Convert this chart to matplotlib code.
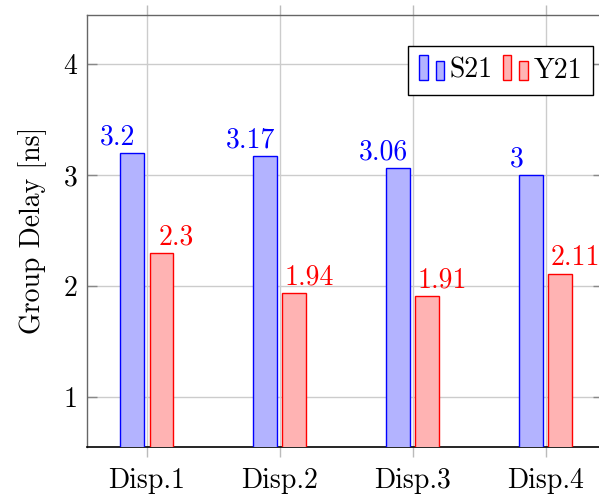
import numpy as np
import matplotlib.pyplot as plt
from matplotlib.legend_handler import HandlerBase
from matplotlib.patches import Rectangle

plt.rcParams["font.family"] = ["cmr10", "DejaVu Serif"]
plt.rcParams["axes.formatter.use_mathtext"] = True

categories = ["Disp.1", "Disp.2", "Disp.3", "Disp.4"]
s21 = [3.2, 3.17, 3.06, 3.0]
y21 = [2.3, 1.94, 1.91, 2.11]
yticks = [1, 2, 3, 4]

blue_fill = (0.7, 0.7, 1.0)
red_fill = (1.0, 0.7, 0.7)


class TwoBarHandler(HandlerBase):
    # pgfplots-like ybar legend image: two small bars
    def create_artists(self, legend, orig_handle, xdescent, ydescent,
                       width, height, fontsize, trans):
        fc = orig_handle.get_facecolor()
        ec = orig_handle.get_edgecolor()
        bw = width * 0.33
        h1 = height * 1.3
        h2 = height * 0.98
        y0 = -ydescent - height * 0.12
        r1 = Rectangle((-xdescent, y0), bw, h1, facecolor=fc,
                       edgecolor=ec, linewidth=1.0, transform=trans)
        r2 = Rectangle((-xdescent + width - bw, y0), bw, h2, facecolor=fc,
                       edgecolor=ec, linewidth=1.0, transform=trans)
        return [r1, r2]


fig = plt.figure(figsize=(5.99, 4.96), dpi=100)
ax = fig.add_axes([87 / 599, 49.5 / 496, 516 / 599, 431.5 / 496])

x = np.arange(len(categories))
bw = 0.18
off = 0.11

b1 = ax.bar(x - off, s21, width=bw, color=blue_fill, edgecolor="blue",
            linewidth=1.0, label="S21", zorder=3)
b2 = ax.bar(x + off, y21, width=bw, color=red_fill, edgecolor="red",
            linewidth=1.0, label="Y21", zorder=3)

# labels near coords
for i, v in enumerate(s21):
    ax.annotate(f"{v:g}", (x[i] - 2 * off, v), xytext=(0, 6),
                textcoords="offset points", ha="center", va="baseline",
                color="blue", fontsize=20, zorder=4)
for i, v in enumerate(y21):
    ax.annotate(f"{v:g}", (x[i] + 2 * off, v), xytext=(0, 6),
                textcoords="offset points", ha="center", va="baseline",
                color="red", fontsize=20, zorder=4)

ax.set_xlim(-0.45, 3.43)
ax.set_ylim(0.554, 4.441)
ax.set_xticks(x)
ax.set_xticklabels(categories, fontsize=20)
ax.set_yticks(yticks)
ax.set_yticklabels([str(t) for t in yticks], fontsize=20)
ax.set_ylabel("Group Delay [ns]", fontsize=20, labelpad=12)

ax.grid(True, color="#cccccc", linewidth=1.0, zorder=0)
ax.set_axisbelow(True)

ax.tick_params(axis="x", direction="out", length=7, width=1.0,
               color="#bbbbbb", pad=8, top=True)
ax.tick_params(axis="y", direction="in", length=7, width=1.0,
               color="#888888", pad=7, right=True)

for side in ["left", "top", "right"]:
    ax.spines[side].set_color("#666666")
    ax.spines[side].set_linewidth(1.0)
ax.spines["bottom"].set_color("black")
ax.spines["bottom"].set_linewidth(1.2)

h1 = b1.patches[0]
h2 = b2.patches[0]
leg = ax.legend(handles=[h1, h2], labels=["S21", "Y21"], ncol=2,
                loc="upper right", bbox_to_anchor=(0.9806, 0.928),
                fontsize=20,
                handler_map={h1: TwoBarHandler(), h2: TwoBarHandler()},
                handlelength=0.9, handletextpad=0.2, columnspacing=0.35,
                borderpad=0.4, borderaxespad=0.0, fancybox=False,
                framealpha=1.0, edgecolor="black")
leg.get_frame().set_linewidth(1.0)

fig.savefig("out.png", dpi=100)
